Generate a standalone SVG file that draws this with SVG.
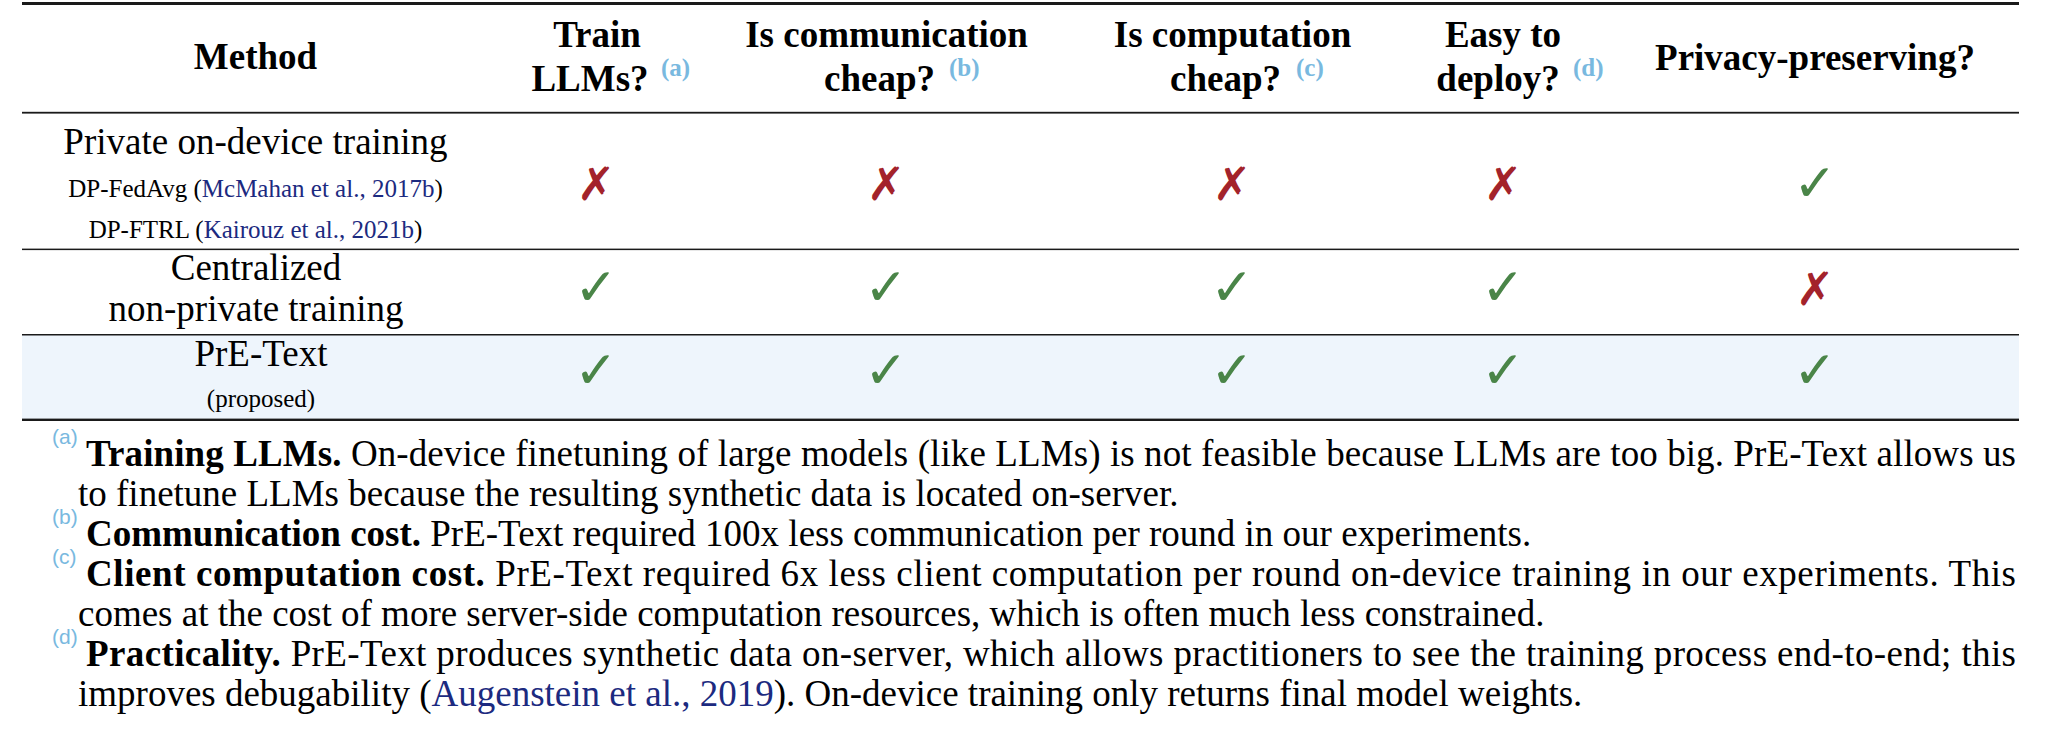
<svg xmlns="http://www.w3.org/2000/svg" width="2061" height="735" viewBox="0 0 2061 735">
<style>
.hd{font-family:"Liberation Serif","Times New Roman",serif;font-weight:bold;font-size:37px;fill:#000;text-anchor:middle}
.hs{font-family:"Liberation Serif","Times New Roman",serif;font-weight:bold;font-size:25px;fill:#79b9df}
.bd{font-family:"Liberation Serif","Times New Roman",serif;font-size:37px;fill:#000;text-anchor:middle}
.sm{font-family:"Liberation Serif","Times New Roman",serif;font-size:25px;fill:#000;text-anchor:middle}
.cite{fill:#1c2a80}
.ck{font-family:"DejaVu Sans",sans-serif;font-weight:bold;font-size:52px;fill:#4a8548;text-anchor:middle}
.cx{font-family:"DejaVu Sans",sans-serif;font-weight:bold;font-size:46px;fill:#a3232b;text-anchor:middle}
.fn{font-family:"Liberation Serif","Times New Roman",serif;font-size:37px;fill:#000}
.fb{font-weight:bold}
.fm{font-family:"Liberation Sans",Arial,sans-serif;font-size:21px;fill:#79b9df}
.rule{fill:#1a1a1a}
</style>

<rect id="highlight-row" x="22" y="335" width="1997" height="84" fill="#eef5fc"/>

<g id="rules">
<rect class="rule" x="22" y="2" width="1997" height="3"/>
<rect class="rule" x="22" y="111.8" width="1997" height="1.8"/>
<rect class="rule" x="22" y="248.6" width="1997" height="1.5"/>
<rect class="rule" x="22" y="334" width="1997" height="1.5"/>
<rect class="rule" x="22" y="418.6" width="1997" height="2.4"/>
</g>

<g id="header">
<text class="hd" x="255.5" y="69">Method</text>
<text class="hd" x="597" y="47">Train</text>
<text class="hd" x="590" y="91">LLMs?</text>
<text class="hs" x="661" y="76">(a)</text>
<text class="hd" x="886.5" y="47">Is communication</text>
<text class="hd" x="879.5" y="91">cheap?</text>
<text class="hs" x="949" y="76">(b)</text>
<text class="hd" x="1232.5" y="47">Is computation</text>
<text class="hd" x="1225.5" y="91">cheap?</text>
<text class="hs" x="1296" y="76">(c)</text>
<text class="hd" x="1503" y="47">Easy to</text>
<text class="hd" x="1498" y="91">deploy?</text>
<text class="hs" x="1573" y="76">(d)</text>
<text class="hd" x="1815" y="70">Privacy-preserving?</text>
</g>

<g id="row-private">
<text class="bd" x="255.5" y="154">Private on-device training</text>
<text class="sm" x="255.5" y="197">DP-FedAvg (<tspan class="cite">McMahan et al., 2017b</tspan>)</text>
<text class="sm" x="255.5" y="238">DP-FTRL (<tspan class="cite">Kairouz et al., 2021b</tspan>)</text>
<text class="cx" x="596" y="200">✗</text>
<text class="cx" x="886" y="200">✗</text>
<text class="cx" x="1232" y="200">✗</text>
<text class="cx" x="1503" y="200">✗</text>
<text class="ck" x="1815" y="201">✓</text>
</g>

<g id="row-centralized">
<text class="bd" x="256" y="280">Centralized</text>
<text class="bd" x="256" y="321">non-private training</text>
<text class="ck" x="596" y="305">✓</text>
<text class="ck" x="886" y="305">✓</text>
<text class="ck" x="1232" y="305">✓</text>
<text class="ck" x="1503" y="305">✓</text>
<text class="cx" x="1815" y="305">✗</text>
</g>

<g id="row-pretext">
<text class="bd" x="261" y="366">PrE-Text</text>
<text class="sm" x="261" y="407">(proposed)</text>
<text class="ck" x="596" y="388">✓</text>
<text class="ck" x="886" y="388">✓</text>
<text class="ck" x="1232" y="388">✓</text>
<text class="ck" x="1503" y="388">✓</text>
<text class="ck" x="1815" y="388">✓</text>
</g>

<g id="footnotes">
<text class="fm" x="52" y="444">(a)</text>
<text class="fn" x="86" y="466" textLength="1930" lengthAdjust="spacing"><tspan class="fb">Training LLMs.</tspan> On-device finetuning of large models (like LLMs) is not feasible because LLMs are too big. PrE-Text allows us</text>
<text class="fn" x="78" y="506">to finetune LLMs because the resulting synthetic data is located on-server.</text>
<text class="fm" x="52" y="524">(b)</text>
<text class="fn" x="86" y="546"><tspan class="fb">Communication cost.</tspan> PrE-Text required 100x less communication per round in our experiments.</text>
<text class="fm" x="52" y="564">(c)</text>
<text class="fn" x="86" y="586" textLength="1930" lengthAdjust="spacing"><tspan class="fb">Client computation cost.</tspan> PrE-Text required 6x less client computation per round on-device training in our experiments. This</text>
<text class="fn" x="78" y="626">comes at the cost of more server-side computation resources, which is often much less constrained.</text>
<text class="fm" x="52" y="644">(d)</text>
<text class="fn" x="86" y="666" textLength="1930" lengthAdjust="spacing"><tspan class="fb">Practicality.</tspan> PrE-Text produces synthetic data on-server, which allows practitioners to see the training process end-to-end; this</text>
<text class="fn" x="78" y="706">improves debugability (<tspan class="cite">Augenstein et al., 2019</tspan>). On-device training only returns final model weights.</text>
</g>
</svg>
